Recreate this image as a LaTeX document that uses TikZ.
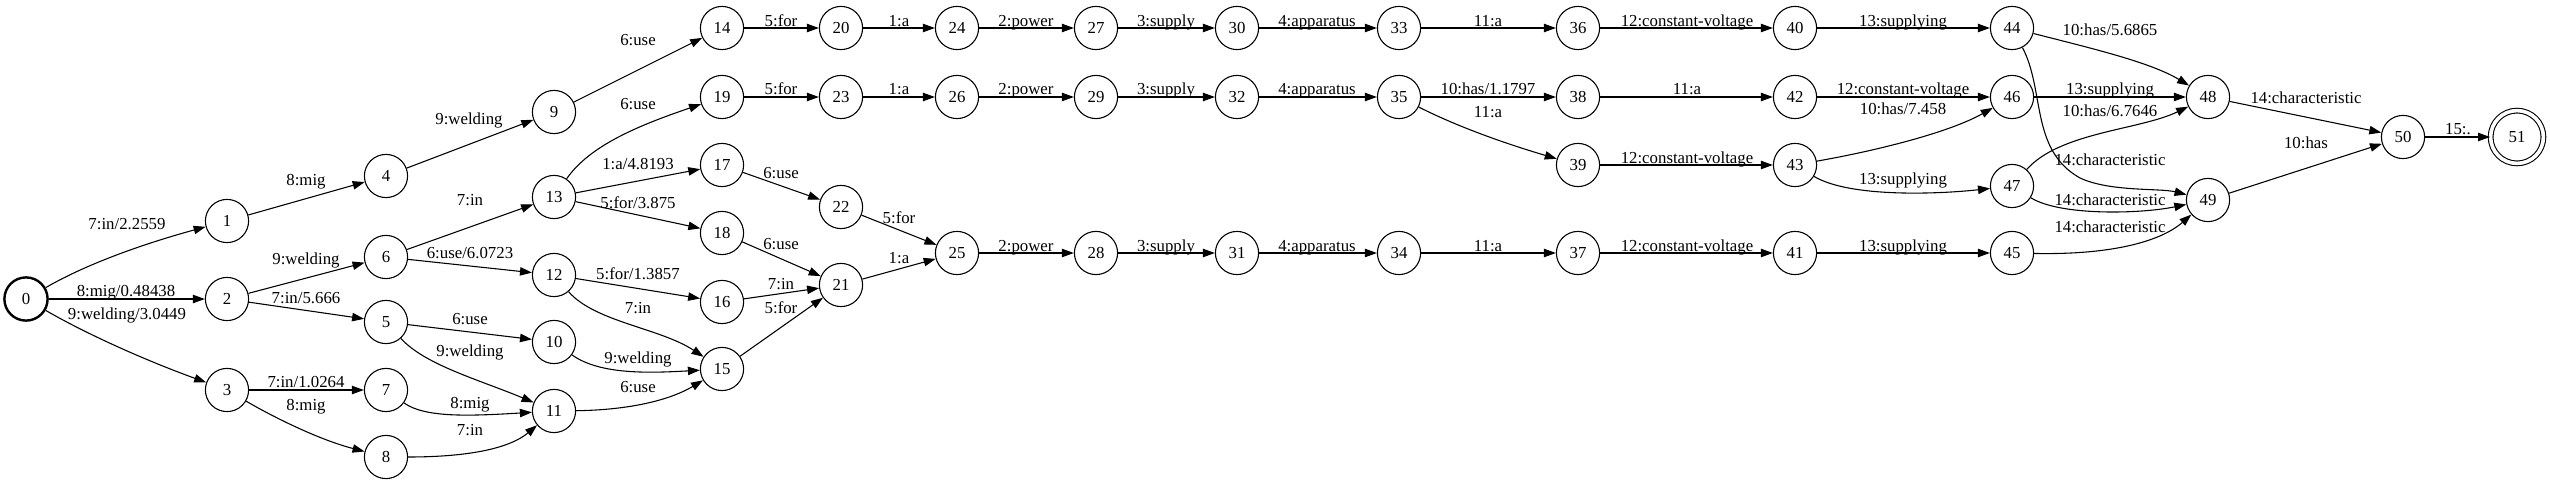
\documentclass[tikz,border=0pt]{standalone}
\usepackage{fontspec}
\setmainfont{Liberation Serif}
\usetikzlibrary{arrows.meta}
\newcommand\elabel[3]{\node[elab] (#1) at #2 {#3};}
\begin{document}
\begin{tikzpicture}[x=0.8333pt,y=-0.8333pt,
  st/.style={circle,draw,line width=0.9pt,minimum size=36pt,inner sep=0pt,font=\fontsize{14}{16}\selectfont},
  startst/.style={st,line width=2pt},
  finalst/.style={st,double,double distance=3pt,minimum size=44pt},
  elab/.style={anchor=base,inner sep=0pt,font=\fontsize{14}{16}\selectfont},
  tr/.style={draw,line width=0.9pt,-{Triangle[length=10pt,width=7pt]}}]
\useasboundingbox (0,0) rectangle (2550,483);
% states
\node[startst] (n0) at (26,299) {0};
\node[st] (n1) at (227,221) {1};
\node[st] (n2) at (227,299) {2};
\node[st] (n3) at (227,390) {3};
\node[st] (n4) at (386,176) {4};
\node[st] (n6) at (386,257) {6};
\node[st] (n5) at (386,322) {5};
\node[st] (n7) at (386,390) {7};
\node[st] (n8) at (386,457) {8};
\node[st] (n9) at (554,112) {9};
\node[st] (n13) at (554,197) {13};
\node[st] (n12) at (554,275) {12};
\node[st] (n10) at (554,342) {10};
\node[st] (n11) at (554,411) {11};
\node[st] (n14) at (722,28) {14};
\node[st] (n19) at (722,97) {19};
\node[st] (n17) at (722,165) {17};
\node[st] (n18) at (722,233) {18};
\node[st] (n16) at (722,302) {16};
\node[st] (n15) at (722,369) {15};
\node[st] (n20) at (841,28) {20};
\node[st] (n23) at (841,97) {23};
\node[st] (n22) at (841,207) {22};
\node[st] (n21) at (841,285) {21};
\node[st] (n24) at (957,28) {24};
\node[st] (n26) at (957,97) {26};
\node[st] (n25) at (957,253) {25};
\node[st] (n27) at (1096,28) {27};
\node[st] (n29) at (1096,97) {29};
\node[st] (n28) at (1096,253) {28};
\node[st] (n30) at (1237,28) {30};
\node[st] (n32) at (1237,97) {32};
\node[st] (n31) at (1237,253) {31};
\node[st] (n33) at (1399,28) {33};
\node[st] (n35) at (1399,97) {35};
\node[st] (n34) at (1399,253) {34};
\node[st] (n36) at (1578,28) {36};
\node[st] (n38) at (1578,97) {38};
\node[st] (n39) at (1578,165) {39};
\node[st] (n37) at (1578,253) {37};
\node[st] (n40) at (1795,28) {40};
\node[st] (n42) at (1795,97) {42};
\node[st] (n43) at (1795,165) {43};
\node[st] (n41) at (1795,253) {41};
\node[st] (n44) at (2012,28) {44};
\node[st] (n46) at (2012,97) {46};
\node[st] (n47) at (2012,186) {47};
\node[st] (n45) at (2012,253) {45};
\node[st] (n48) at (2208,97) {48};
\node[st] (n49) at (2208,200) {49};
\node[st] (n50) at (2403,137) {50};
\node[finalst] (n51) at (2517,137) {51};
% transitions
\path[tr] (n0) .. controls (90,262) and (150,242) .. (n1);
\path[tr] (n0) -- (n2);
\path[tr] (n0) .. controls (90,336) and (150,362) .. (n3);
\path[tr] (n1) -- (n4);
\path[tr] (n2) -- (n6);
\path[tr] (n2) -- (n5);
\path[tr] (n3) -- (n7);
\path[tr] (n3) .. controls (275,418) and (320,440) .. (n8);
\path[tr] (n4) -- (n9);
\path[tr] (n6) -- (n13);
\path[tr] (n6) -- (n12);
\path[tr] (n5) -- (n10);
\path[tr] (n5) .. controls (425,365) and (480,380) .. (n11);
\path[tr] (n7) .. controls (425,418) and (470,416) .. (n11);
\path[tr] (n8) .. controls (470,457) and (510,448) .. (n11);
\path[tr] (n9) -- (n14);
\path[tr] (n13) .. controls (590,145) and (640,125) .. (n19);
\path[tr] (n13) -- (n17);
\path[tr] (n13) -- (n18);
\path[tr] (n12) -- (n16);
\path[tr] (n12) .. controls (595,322) and (660,328) .. (n15);
\path[tr] (n10) .. controls (600,375) and (650,373) .. (n15);
\path[tr] (n11) .. controls (630,410) and (670,400) .. (n15);
\path[tr] (n14) -- (n20);
\path[tr] (n19) -- (n23);
\path[tr] (n17) -- (n22);
\path[tr] (n18) -- (n21);
\path[tr] (n16) -- (n21);
\path[tr] (n15) -- (n21);
\path[tr] (n20) -- (n24);
\path[tr] (n23) -- (n26);
\path[tr] (n22) -- (n25);
\path[tr] (n21) -- (n25);
\path[tr] (n24) -- (n27);
\path[tr] (n26) -- (n29);
\path[tr] (n25) -- (n28);
\path[tr] (n27) -- (n30);
\path[tr] (n29) -- (n32);
\path[tr] (n28) -- (n31);
\path[tr] (n30) -- (n33);
\path[tr] (n32) -- (n35);
\path[tr] (n31) -- (n34);
\path[tr] (n33) -- (n36);
\path[tr] (n35) -- (n38);
\path[tr] (n35) .. controls (1460,128) and (1510,145) .. (n39);
\path[tr] (n34) -- (n37);
\path[tr] (n36) -- (n40);
\path[tr] (n38) -- (n42);
\path[tr] (n39) -- (n43);
\path[tr] (n37) -- (n41);
\path[tr] (n40) -- (n44);
\path[tr] (n42) -- (n46);
\path[tr] (n43) .. controls (1880,150) and (1950,132) .. (n46);
\path[tr] (n43) .. controls (1850,198) and (1940,194) .. (n47);
\path[tr] (n41) -- (n45);
\path[tr] (n44) .. controls (2090,48) and (2150,62) .. (n48);
\path[tr] (n46) -- (n48);
\path[tr] (n47) .. controls (2060,132) and (2140,130) .. (n48);
\path[tr] (n44) .. controls (2045,90) and (2030,150) .. (2080,178) .. controls (2110,192) and (2160,188) .. (n49);
\path[tr] (n47) .. controls (2060,216) and (2140,214) .. (n49);
\path[tr] (n45) .. controls (2110,255) and (2160,242) .. (n49);
\path[tr] (n48) -- (n50);
\path[tr] (n49) -- (n50);
\path[tr] (n50) -- (n51);
% labels
\elabel{l0-1}{(127,229)}{7:in/2.2559}
\elabel{l0-2}{(126,296)}{8:mig/0.48438}
\elabel{l0-3}{(127,319)}{9:welding/3.0449}
\elabel{l1-4}{(306,185)}{8:mig}
\elabel{l2-6}{(306,264)}{9:welding}
\elabel{l2-5}{(306,303)}{7:in/5.666}
\elabel{l3-7}{(306,387)}{7:in/1.0264}
\elabel{l3-8}{(306,410)}{8:mig}
\elabel{l4-9}{(469,124)}{9:welding}
\elabel{l6-13}{(470,205)}{7:in}
\elabel{l6-12}{(470,258)}{6:use/6.0723}
\elabel{l5-10}{(470,324)}{6:use}
\elabel{l5-11}{(470,356)}{9:welding}
\elabel{l7-11}{(470,408)}{8:mig}
\elabel{l8-11}{(470,435)}{7:in}
\elabel{l9-14}{(638,45)}{6:use}
\elabel{l13-19}{(638,109)}{6:use}
\elabel{l13-17}{(638,169)}{1:a/4.8193}
\elabel{l13-18}{(638,208)}{5:for/3.875}
\elabel{l12-16}{(638,279)}{5:for/1.3857}
\elabel{l12-15}{(638,313)}{7:in}
\elabel{l10-15}{(638,363)}{9:welding}
\elabel{l11-15}{(638,392)}{6:use}
\elabel{l14-20}{(781,26)}{5:for}
\elabel{l19-23}{(781,94)}{5:for}
\elabel{l17-22}{(781,178)}{6:use}
\elabel{l18-21}{(781,249)}{6:use}
\elabel{l16-21}{(781,289)}{7:in}
\elabel{l15-21}{(781,313)}{5:for}
\elabel{l20-24}{(899,26)}{1:a}
\elabel{l23-26}{(899,94)}{1:a}
\elabel{l22-25}{(899,223)}{5:for}
\elabel{l21-25}{(899,263)}{1:a}
\elabel{l24-27}{(1026,26)}{2:power}
\elabel{l26-29}{(1026,94)}{2:power}
\elabel{l25-28}{(1026,251)}{2:power}
\elabel{l27-30}{(1166,26)}{3:supply}
\elabel{l29-32}{(1166,94)}{3:supply}
\elabel{l28-31}{(1166,251)}{3:supply}
\elabel{l30-33}{(1317,26)}{4:apparatus}
\elabel{l32-35}{(1317,94)}{4:apparatus}
\elabel{l31-34}{(1317,251)}{4:apparatus}
\elabel{l33-36}{(1488,26)}{11:a}
\elabel{l35-38}{(1488,94)}{10:has/1.1797}
\elabel{l35-39}{(1488,117)}{11:a}
\elabel{l34-37}{(1488,251)}{11:a}
\elabel{l36-40}{(1687,26)}{12:constant-voltage}
\elabel{l38-42}{(1687,94)}{11:a}
\elabel{l39-43}{(1687,163)}{12:constant-voltage}
\elabel{l37-41}{(1687,251)}{12:constant-voltage}
\elabel{l40-44}{(1903,26)}{13:supplying}
\elabel{l42-46}{(1903,94)}{12:constant-voltage}
\elabel{l43-46}{(1903,114)}{10:has/7.458}
\elabel{l43-47}{(1903,184)}{13:supplying}
\elabel{l41-45}{(1903,251)}{13:supplying}
\elabel{l44-48}{(2110,35)}{10:has/5.6865}
\elabel{l46-48}{(2110,94)}{13:supplying}
\elabel{l47-48}{(2110,116)}{10:has/6.7646}
\elabel{l44-49}{(2110,165)}{14:characteristic}
\elabel{l47-49}{(2110,205)}{14:characteristic}
\elabel{l45-49}{(2110,232)}{14:characteristic}
\elabel{l48-50}{(2306,103)}{14:characteristic}
\elabel{l49-50}{(2306,148)}{10:has}
\elabel{l50-51}{(2458,134)}{15:.}
\end{tikzpicture}
\end{document}
